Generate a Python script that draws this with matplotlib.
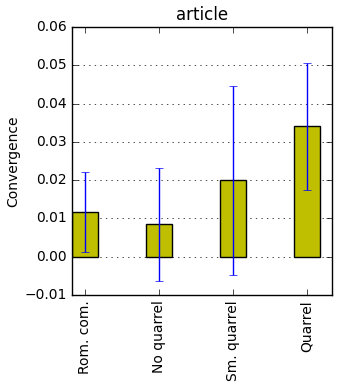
import numpy as np
import matplotlib
matplotlib.use('Agg')
import matplotlib.pyplot as plt

# data
categories = ['Rom. com.', 'No quarrel', 'Sm. quarrel', 'Quarrel']
convergence = [0.0117, 0.0085, 0.0200, 0.0341]
errors = [0.0104, 0.0148, 0.0247, 0.0166]
yticks = [-0.01, 0.00, 0.01, 0.02, 0.03, 0.04, 0.05, 0.06]

plt.style.use('classic')
fig = plt.figure(figsize=(3.4, 3.88), dpi=100)
ax = fig.add_axes([72 / 340, 1 - 295 / 388, 260 / 340, 268 / 388])

x = np.arange(len(categories))
ax.bar(x, convergence, width=0.35, align='center', color='y', edgecolor='k',
       yerr=errors, ecolor='b', capsize=3, error_kw={'elinewidth': 1.0})

ax.set_xlim(-0.175, 3.34)
ax.set_ylim(-0.01, 0.06)
ax.set_yticks(yticks)
ax.set_yticklabels(['%.2f' % v if v >= 0 else '\u22120.01' for v in yticks], fontsize=10)
ax.set_xticks(x)
ax.set_xticklabels(categories, rotation=90, fontsize=10)
ax.yaxis.grid(True, linestyle=':', color='k')
ax.set_axisbelow(True)
ax.set_ylabel('Convergence', fontsize=10)
ax.yaxis.set_label_coords(-0.2, 0.5)
ax.set_title('article', fontsize=12)

fig.savefig('out.png', dpi=100)
